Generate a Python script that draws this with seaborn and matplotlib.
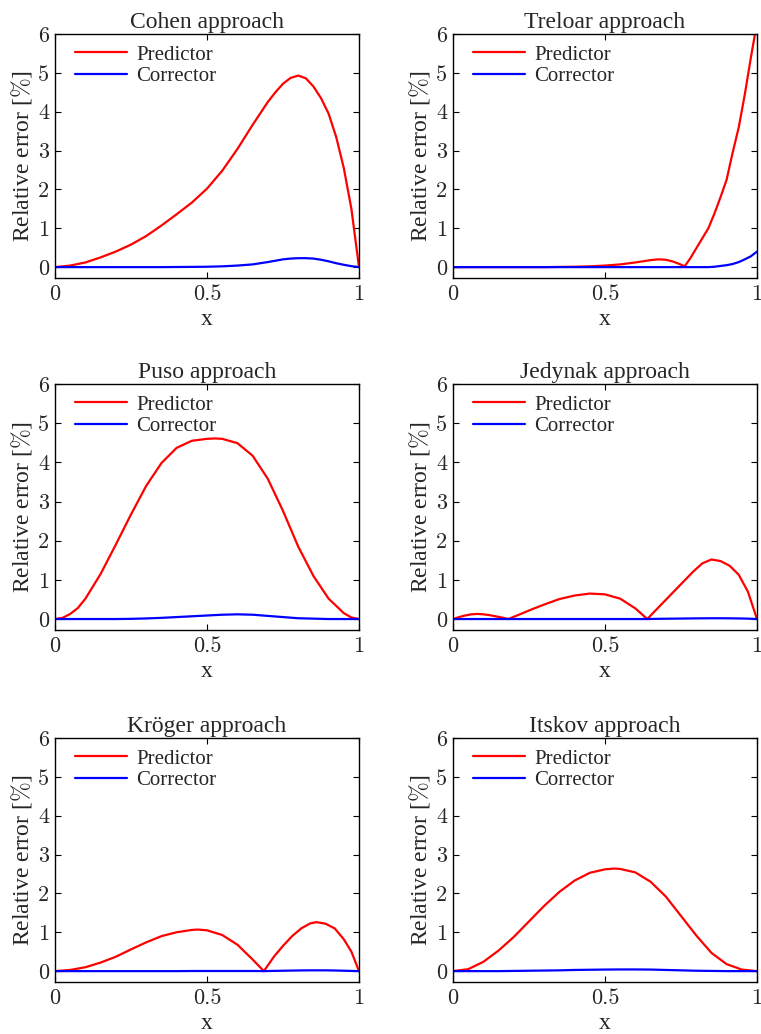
import matplotlib
matplotlib.use("Agg")
import matplotlib.pyplot as plt
import seaborn as sns
import pandas as pd

# ---------------- data ----------------
titles = ["Cohen approach", "Treloar approach", "Puso approach",
          "Jedynak approach", "Kröger approach", "Itskov approach"]

cohen_x = [0, .05, .1, .15, .2, .25, .3, .35, .4, .45, .5, .55, .6, .65, .7, .725, .75, .775, .8, .825, .85, .875, .9, .925, .95, .975, 1]
cohen_pred = [0, .04, .12, .25, .4, .58, .8, 1.07, 1.36, 1.66, 2.02, 2.48, 3.04, 3.66, 4.25, 4.5, 4.72, 4.87, 4.93, 4.86, 4.65, 4.35, 3.95, 3.35, 2.55, 1.5, 0]
cohen_corr = [0, 0, 0, 0, 0, 0, 0, 0, .003, .006, .01, .02, .04, .07, .13, .165, .2, .22, .23, .23, .22, .19, .15, .1, .06, .025, 0]

treloar_x = [0, .1, .2, .3, .4, .45, .5, .55, .6, .65, .675, .7, .725, .745, .762, .78, .8, .82, .84, .86, .88, .9, .92, .94, .96, .98, 1.0]
treloar_pred = [0, 0, 0, 0, .01, .02, .04, .07, .12, .18, .2, .19, .14, .08, .02, .22, .48, .74, 1.0, 1.38, 1.8, 2.25, 2.95, 3.6, 4.45, 5.4, 6.3]
treloar_corr = [0, 0, 0, 0, 0, 0, 0, 0, 0, 0, 0, 0, 0, 0, 0, 0, 0, 0, 0, .01, .03, .05, .08, .13, .2, .28, .4]

puso_x = [0, .025, .05, .075, .1, .15, .2, .25, .3, .35, .4, .45, .5, .525, .55, .6, .65, .7, .75, .8, .85, .9, .95, .975, 1]
puso_pred = [0, .03, .13, .28, .52, 1.15, 1.9, 2.67, 3.4, 3.98, 4.37, 4.55, 4.6, 4.61, 4.6, 4.49, 4.17, 3.58, 2.76, 1.85, 1.1, .52, .15, .04, 0]
puso_corr = [0, 0, 0, 0, 0, 0, 0, .005, .015, .03, .05, .07, .09, .1, .11, .12, .11, .08, .05, .02, .01, 0, 0, 0, 0]

jedynak_x = [0, .02, .04, .06, .08, .1, .12, .14, .16, .182, .22, .26, .3, .35, .4, .45, .5, .55, .6, .639, .67, .7, .73, .76, .79, .82, .85, .88, .91, .94, .97, 1]
jedynak_pred = [0, .05, .09, .12, .13, .12, .1, .07, .04, 0, .12, .25, .37, .51, .6, .65, .63, .52, .27, 0, .25, .49, .73, .97, 1.21, 1.42, 1.52, 1.48, 1.36, 1.13, .7, 0]
jedynak_corr = [0, 0, 0, 0, 0, 0, 0, 0, 0, 0, 0, 0, 0, 0, 0, 0, 0, 0, 0, 0, .005, .008, .01, .013, .016, .018, .02, .02, .018, .015, .01, 0]

kroger_x = [0, .05, .1, .15, .2, .25, .3, .35, .4, .45, .47, .5, .55, .6, .65, .687, .72, .75, .78, .81, .84, .86, .89, .92, .95, .975, 1]
kroger_pred = [0, .03, .1, .22, .37, .56, .74, .9, 1.0, 1.06, 1.07, 1.05, .93, .68, .3, 0, .37, .65, .9, 1.1, 1.23, 1.26, 1.22, 1.1, .82, .5, 0]
kroger_corr = [0, 0, 0, 0, 0, 0, 0, 0, 0, .003, .003, .003, .003, .003, .003, 0, .006, .01, .014, .018, .02, .02, .02, .016, .01, .005, 0]

itskov_x = [0, .05, .1, .15, .2, .25, .3, .35, .4, .45, .5, .53, .55, .6, .65, .7, .75, .8, .85, .9, .95, 1]
itskov_pred = [0, .05, .24, .53, .88, 1.28, 1.68, 2.04, 2.33, 2.53, 2.62, 2.64, 2.63, 2.54, 2.3, 1.92, 1.42, .92, .47, .18, .04, 0]
itskov_corr = [0, 0, 0, 0, .005, .01, .015, .02, .03, .035, .04, .042, .043, .043, .04, .03, .02, .01, .005, 0, 0, 0]

panels = [
    (cohen_x, cohen_pred, cohen_corr),
    (treloar_x, treloar_pred, treloar_corr),
    (puso_x, puso_pred, puso_corr),
    (jedynak_x, jedynak_pred, jedynak_corr),
    (kroger_x, kroger_pred, kroger_corr),
    (itskov_x, itskov_pred, itskov_corr),
]

x_ticks = [0, 0.5, 1]
x_ticklabels = ["0", "0.5", "1"]
y_ticks = [0, 1, 2, 3, 4, 5, 6]
y_ticklabels = ["0", "1", "2", "3", "4", "5", "6"]

# ---------------- style ----------------
sns.set_style("ticks")
plt.rcParams["font.family"] = ["Liberation Serif", "DejaVu Serif"]
plt.rcParams["mathtext.fontset"] = "cm"
plt.rcParams["xtick.direction"] = "in"
plt.rcParams["ytick.direction"] = "in"
plt.rcParams["xtick.top"] = True
plt.rcParams["ytick.right"] = True

fig = plt.figure(figsize=(7.61, 10.34), dpi=100)

lefts = [55 / 761, 453 / 761]
width = 304 / 761
rows = [(34, 278), (384, 630), (738, 982)]

palette = {"Predictor": "#ff0000", "Corrector": "#0000ff"}

for i, (xs, pred, corr) in enumerate(panels):
    r, c = divmod(i, 2)
    top, bot = rows[r]
    ax = fig.add_axes([lefts[c], 1 - bot / 1034, width, (bot - top) / 1034])
    df = pd.DataFrame({
        "x": list(xs) + list(xs),
        "y": list(pred) + list(corr),
        "series": ["Predictor"] * len(xs) + ["Corrector"] * len(xs),
    })
    sns.lineplot(data=df, x="x", y="y", hue="series", palette=palette,
                 estimator=None, sort=False, linewidth=1.6, ax=ax)
    ax.set_xlim(0, 1)
    ax.set_ylim(-0.28, 6)
    ax.set_xticks(x_ticks)
    ax.set_xticklabels(x_ticklabels, fontfamily="cmr10", fontsize=16)
    ax.set_yticks(y_ticks)
    ax.set_yticklabels(y_ticklabels, fontfamily="cmr10", fontsize=16)
    ax.tick_params(axis="x", length=4, width=0.8, color="black", pad=5)
    ax.tick_params(axis="y", length=4, width=0.8, color="black", pad=4)
    ax.set_xlabel("x", fontsize=17, labelpad=3)
    ax.set_ylabel(r"Relative error [$\%$]", fontsize=17, labelpad=3)
    ax.set_title(titles[i], fontsize=17, pad=1, y=1.02)
    for s in ax.spines.values():
        s.set_linewidth(1.0)
        s.set_color("black")
    ax.legend(loc="upper left", bbox_to_anchor=(0.066, 0.955), frameon=False,
              fontsize=15, handlelength=2.5, handletextpad=0.45,
              labelspacing=0.1, borderaxespad=0, borderpad=0)

fig.savefig("out.png", dpi=100)
